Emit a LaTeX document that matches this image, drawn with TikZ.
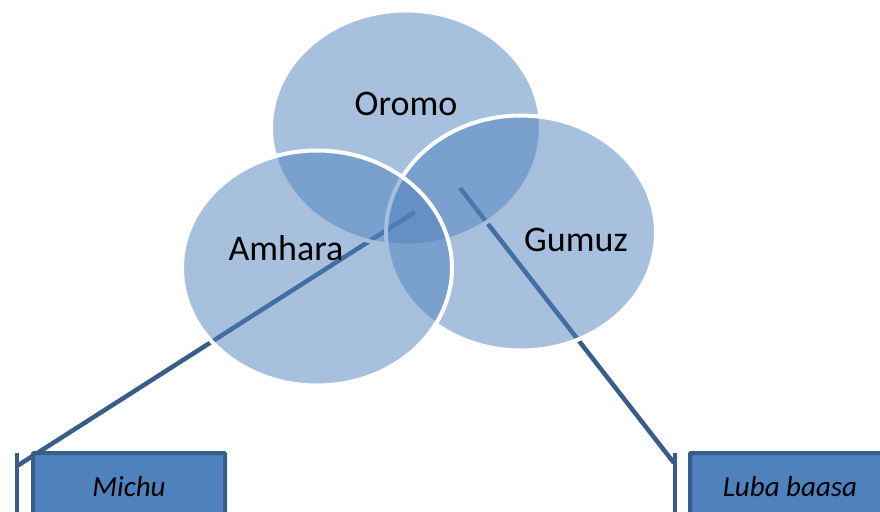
\documentclass[tikz,border=0pt]{standalone}
\usepackage{fontspec}
\setmainfont{Carlito}
\usetikzlibrary{shapes.geometric,positioning}
\definecolor{accentblue}{RGB}{79,129,189}
\definecolor{accentdark}{RGB}{56,93,138}

\begin{document}
\begin{tikzpicture}[x=0.5pt,y=-0.5pt,
      set/.style={
         ellipse,
         minimum width=135pt,
         minimum height=117.5pt,
         inner sep=0pt,
         fill=accentblue,
         fill opacity=0.5,
         draw=white,
         line width=2pt
      },
      setname/.style={
         font=\fontsize{18}{22}\selectfont,
         text=black
      },
      notebox/.style={
         rectangle,
         rounded corners=0.5pt,
         minimum height=34pt,
         fill=accentblue,
         draw=accentdark,
         line width=2pt,
         font=\fontsize{14.5}{17}\selectfont\itshape
      },
      callout/.style={draw=accentdark, line width=2.25pt}
    ]
    \path[use as bounding box, clip] (0,0) rectangle (880,511);
    % callout ends
    \coordinate (tipL) at (415,212);
    \coordinate (barL) at (17,466);
    \coordinate (barLtop) at (17,453);
    \coordinate (barLbot) at (17,530);
    \coordinate (tipR) at (460,188);
    \coordinate (barR) at (674,463);
    \coordinate (barRtop) at (675,453);
    \coordinate (barRbot) at (675,530);
    \draw[callout] (tipL) -- (barL);
    \draw[callout] (barLtop) -- (barLbot);
    \draw[callout] (tipR) -- (barR);
    \draw[callout] (barRtop) -- (barRbot);
    % the three sets
    \node (oromo)  [set] at (406,128) {};
    \node (gumuz)  [set] at (521,233) {};
    \node (amhara) [set] at (317,268) {};
    \node (oromoT)  [setname] at (406,104) {Oromo};
    \node (gumuzT)  [setname] at (576,240) {Gumuz};
    \node (amharaT) [setname] at (286,248) {Amhara};
    % notes
    \node (michu) [notebox, minimum width=96pt] at (129,487) {Michu};
    \node (luba)  [notebox, minimum width=100pt] at (790,487) {Luba baasa};
\end{tikzpicture}
\end{document}
